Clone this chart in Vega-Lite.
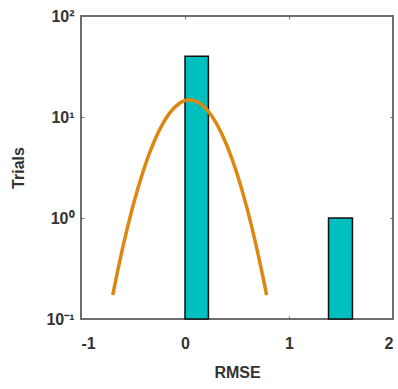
{
  "$schema": "https://vega.github.io/schema/vega-lite/v6.json",
  "width": 312,
  "height": 303,
  "autosize": {"type": "none"},
  "padding": {"left": 81, "top": 16, "right": 5, "bottom": 70},
  "background": "white",
  "config": {
    "view": {"stroke": "#6e6e6e", "strokeWidth": 2},
    "axis": {
      "domain": false,
      "grid": false,
      "ticks": true,
      "tickSize": -3,
      "tickColor": "#6e6e6e",
      "tickWidth": 1,
      "labelFont": "Liberation Sans",
      "labelFontWeight": "bold",
      "labelFontSize": 16,
      "labelColor": "#333333",
      "titleFont": "Liberation Sans",
      "titleFontWeight": "bold",
      "titleFontSize": 16,
      "titleColor": "#333333"
    }
  },
  "resolve": {"axis": {"x": "independent", "y": "independent"}},
  "datasets": {
    "bars": [
      {"x0": 0.0, "x1": 0.225, "count": 40, "base": 0.1},
      {"x0": 1.38, "x1": 1.61, "count": 1, "base": 0.1}
    ],
    "fit": [
      {"x": -0.695, "y": 0.1726},
      {"x": -0.65, "y": 0.2916},
      {"x": -0.6, "y": 0.503},
      {"x": -0.55, "y": 0.832},
      {"x": -0.5, "y": 1.323},
      {"x": -0.45, "y": 2.019},
      {"x": -0.4, "y": 2.958},
      {"x": -0.35, "y": 4.163},
      {"x": -0.3, "y": 5.624},
      {"x": -0.25, "y": 7.295},
      {"x": -0.2, "y": 9.086},
      {"x": -0.15, "y": 10.865},
      {"x": -0.1, "y": 12.475},
      {"x": -0.05, "y": 13.75},
      {"x": 0.0, "y": 14.56},
      {"x": 0.045, "y": 14.8},
      {"x": 0.1, "y": 14.44},
      {"x": 0.15, "y": 13.53},
      {"x": 0.2, "y": 12.17},
      {"x": 0.25, "y": 10.52},
      {"x": 0.3, "y": 8.72},
      {"x": 0.35, "y": 6.95},
      {"x": 0.4, "y": 5.31},
      {"x": 0.45, "y": 3.9},
      {"x": 0.5, "y": 2.75},
      {"x": 0.55, "y": 1.86},
      {"x": 0.6, "y": 1.21},
      {"x": 0.65, "y": 0.755},
      {"x": 0.7, "y": 0.452},
      {"x": 0.75, "y": 0.26},
      {"x": 0.785, "y": 0.1726}
    ]
  },
  "layer": [
    {
      "data": {"name": "bars"},
      "mark": {"type": "rect", "fill": "#00BFBF", "stroke": "#111111", "strokeWidth": 1.5},
      "encoding": {
        "x": {
          "field": "x0", "type": "quantitative",
          "scale": {"domain": [-1, 2], "nice": false, "zero": false},
          "axis": {
            "values": [-1, 0, 1, 2],
            "labelExpr": "'' + datum.value",
            "labelPadding": 19,
            "title": "RMSE",
            "titlePadding": 13
          }
        },
        "x2": {"field": "x1"},
        "y": {
          "field": "count", "type": "quantitative",
          "scale": {"type": "log", "domain": [0.1, 100], "nice": false},
          "axis": {
            "values": [0.1, 1, 10, 100],
            "labelExpr": "datum.value >= 100 ? '10²' : datum.value >= 10 ? '10¹' : datum.value >= 1 ? '10⁰' : '10⁻¹'",
            "labelPadding": 10,
            "title": "Trials",
            "titlePadding": 19
          }
        },
        "y2": {"field": "base"}
      }
    },
    {
      "data": {"name": "fit"},
      "mark": {"type": "line", "color": "#DC8712", "strokeWidth": 3.5, "clip": true},
      "encoding": {
        "x": {
          "field": "x", "type": "quantitative",
          "axis": {"orient": "top", "values": [-1, 0, 1, 2], "labels": false, "title": null}
        },
        "y": {
          "field": "y", "type": "quantitative",
          "axis": {"orient": "right", "values": [0.1, 1, 10, 100], "labels": false, "title": null}
        }
      }
    }
  ]
}
